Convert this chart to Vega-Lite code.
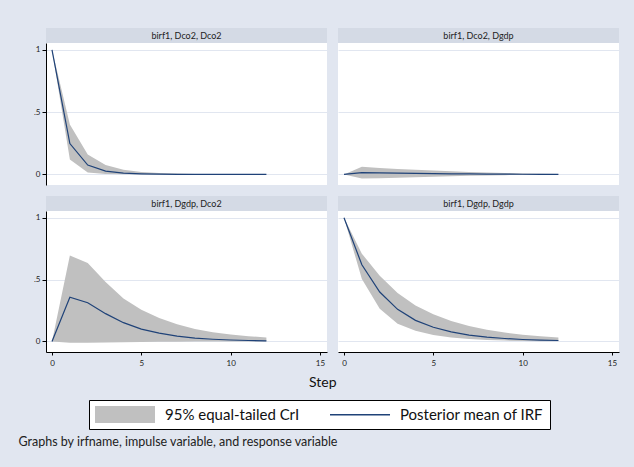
{
  "$schema": "https://vega.github.io/schema/vega-lite/v6.json",
  "background": "#e1e6f0",
  "padding": {"left": 18, "top": 28, "right": 16, "bottom": 20},
  "datasets": {
    "irf": [
      {"panel": "birf1, Dco2, Dco2", "step": 0, "mean": 1, "lo": 1, "hi": 1},
      {"panel": "birf1, Dco2, Dco2", "step": 1, "mean": 0.248, "lo": 0.12, "hi": 0.4},
      {"panel": "birf1, Dco2, Dco2", "step": 2, "mean": 0.075, "lo": 0.016, "hi": 0.16},
      {"panel": "birf1, Dco2, Dco2", "step": 3, "mean": 0.027, "lo": 0.004, "hi": 0.075},
      {"panel": "birf1, Dco2, Dco2", "step": 4, "mean": 0.011, "lo": 0.001, "hi": 0.038},
      {"panel": "birf1, Dco2, Dco2", "step": 5, "mean": 0.005, "lo": 0, "hi": 0.02},
      {"panel": "birf1, Dco2, Dco2", "step": 6, "mean": 0.002, "lo": 0, "hi": 0.012},
      {"panel": "birf1, Dco2, Dco2", "step": 7, "mean": 0.001, "lo": 0, "hi": 0.007},
      {"panel": "birf1, Dco2, Dco2", "step": 8, "mean": 0.0005, "lo": 0, "hi": 0.004},
      {"panel": "birf1, Dco2, Dco2", "step": 9, "mean": 0.0002, "lo": 0, "hi": 0.0025},
      {"panel": "birf1, Dco2, Dco2", "step": 10, "mean": 0.0001, "lo": 0, "hi": 0.0015},
      {"panel": "birf1, Dco2, Dco2", "step": 11, "mean": 0, "lo": 0, "hi": 0.001},
      {"panel": "birf1, Dco2, Dco2", "step": 12, "mean": 0, "lo": 0, "hi": 0.0006},
      {"panel": "birf1, Dco2, Dgdp", "step": 0, "mean": 0, "lo": 0, "hi": 0},
      {"panel": "birf1, Dco2, Dgdp", "step": 1, "mean": 0.014, "lo": -0.032, "hi": 0.062},
      {"panel": "birf1, Dco2, Dgdp", "step": 2, "mean": 0.012, "lo": -0.03, "hi": 0.052},
      {"panel": "birf1, Dco2, Dgdp", "step": 3, "mean": 0.01, "lo": -0.026, "hi": 0.044},
      {"panel": "birf1, Dco2, Dgdp", "step": 4, "mean": 0.008, "lo": -0.022, "hi": 0.037},
      {"panel": "birf1, Dco2, Dgdp", "step": 5, "mean": 0.007, "lo": -0.018, "hi": 0.031},
      {"panel": "birf1, Dco2, Dgdp", "step": 6, "mean": 0.005, "lo": -0.014, "hi": 0.025},
      {"panel": "birf1, Dco2, Dgdp", "step": 7, "mean": 0.004, "lo": -0.011, "hi": 0.02},
      {"panel": "birf1, Dco2, Dgdp", "step": 8, "mean": 0.003, "lo": -0.008, "hi": 0.015},
      {"panel": "birf1, Dco2, Dgdp", "step": 9, "mean": 0.002, "lo": -0.006, "hi": 0.011},
      {"panel": "birf1, Dco2, Dgdp", "step": 10, "mean": 0.0015, "lo": -0.004, "hi": 0.008},
      {"panel": "birf1, Dco2, Dgdp", "step": 11, "mean": 0.001, "lo": -0.003, "hi": 0.005},
      {"panel": "birf1, Dco2, Dgdp", "step": 12, "mean": 0.0008, "lo": -0.002, "hi": 0.003},
      {"panel": "birf1, Dgdp, Dco2", "step": 0, "mean": 0, "lo": 0, "hi": 0},
      {"panel": "birf1, Dgdp, Dco2", "step": 1, "mean": 0.358, "lo": -0.01, "hi": 0.695},
      {"panel": "birf1, Dgdp, Dco2", "step": 2, "mean": 0.313, "lo": -0.01, "hi": 0.634},
      {"panel": "birf1, Dgdp, Dco2", "step": 3, "mean": 0.225, "lo": -0.008, "hi": 0.48},
      {"panel": "birf1, Dgdp, Dco2", "step": 4, "mean": 0.152, "lo": -0.006, "hi": 0.348},
      {"panel": "birf1, Dgdp, Dco2", "step": 5, "mean": 0.1, "lo": -0.004, "hi": 0.257},
      {"panel": "birf1, Dgdp, Dco2", "step": 6, "mean": 0.067, "lo": -0.003, "hi": 0.19},
      {"panel": "birf1, Dgdp, Dco2", "step": 7, "mean": 0.043, "lo": -0.002, "hi": 0.14},
      {"panel": "birf1, Dgdp, Dco2", "step": 8, "mean": 0.027, "lo": -0.001, "hi": 0.1},
      {"panel": "birf1, Dgdp, Dco2", "step": 9, "mean": 0.018, "lo": 0, "hi": 0.075},
      {"panel": "birf1, Dgdp, Dco2", "step": 10, "mean": 0.012, "lo": 0, "hi": 0.056},
      {"panel": "birf1, Dgdp, Dco2", "step": 11, "mean": 0.008, "lo": 0, "hi": 0.043},
      {"panel": "birf1, Dgdp, Dco2", "step": 12, "mean": 0.005, "lo": 0, "hi": 0.033},
      {"panel": "birf1, Dgdp, Dgdp", "step": 0, "mean": 1, "lo": 1, "hi": 1},
      {"panel": "birf1, Dgdp, Dgdp", "step": 1, "mean": 0.62, "lo": 0.505, "hi": 0.71},
      {"panel": "birf1, Dgdp, Dgdp", "step": 2, "mean": 0.4, "lo": 0.265, "hi": 0.532},
      {"panel": "birf1, Dgdp, Dgdp", "step": 3, "mean": 0.26, "lo": 0.144, "hi": 0.393},
      {"panel": "birf1, Dgdp, Dgdp", "step": 4, "mean": 0.171, "lo": 0.086, "hi": 0.29},
      {"panel": "birf1, Dgdp, Dgdp", "step": 5, "mean": 0.115, "lo": 0.053, "hi": 0.22},
      {"panel": "birf1, Dgdp, Dgdp", "step": 6, "mean": 0.078, "lo": 0.032, "hi": 0.166},
      {"panel": "birf1, Dgdp, Dgdp", "step": 7, "mean": 0.052, "lo": 0.02, "hi": 0.125},
      {"panel": "birf1, Dgdp, Dgdp", "step": 8, "mean": 0.035, "lo": 0.012, "hi": 0.095},
      {"panel": "birf1, Dgdp, Dgdp", "step": 9, "mean": 0.024, "lo": 0.007, "hi": 0.072},
      {"panel": "birf1, Dgdp, Dgdp", "step": 10, "mean": 0.016, "lo": 0.004, "hi": 0.055},
      {"panel": "birf1, Dgdp, Dgdp", "step": 11, "mean": 0.011, "lo": 0.002, "hi": 0.042},
      {"panel": "birf1, Dgdp, Dgdp", "step": 12, "mean": 0.008, "lo": 0.001, "hi": 0.032}
    ]
  },
  "title": {
    "text": "Graphs by irfname, impulse variable, and response variable",
    "orient": "bottom", "anchor": "start", "fontSize": 12.5, "fontWeight": "normal",
    "color": "#222", "offset": 6, "dx": -15
  },
  "vconcat": [
    {
      "title": {"text": "Step", "orient": "bottom", "anchor": "middle", "fontSize": 14, "fontWeight": "normal", "color": "#111", "offset": 9, "dx": -3.5},
      "spacing": 11,
      "vconcat": [
        {
          "spacing": 11,
          "hconcat": [
            {
              "spacing": 0,
              "vconcat": [
                {
                  "width": 281, "height": 15,
                  "data": {"name": "irf"},
                  "transform": [{"filter": "datum.panel == 'birf1, Dco2, Dco2' && datum.step == 0"}],
                  "view": {"fill": "#d4dae5", "stroke": null},
                  "mark": {"type": "text", "fontSize": 9, "color": "#222", "baseline": "middle"},
                  "encoding": {"text": {"field": "panel"}}
                },
                {
                  "width": 281, "height": 142,
                  "data": {"name": "irf"},
                  "transform": [{"filter": "datum.panel == 'birf1, Dco2, Dco2'"}],
                  "view": {"fill": "white", "stroke": null},
                  "encoding": {
                    "x": {"field": "step", "type": "quantitative", "scale": {"domain": [-0.336, 15.392], "nice": false, "zero": false}, "axis": null}
                  },
                  "layer": [
                    {
                      "mark": {"type": "area", "color": "#c0c0c0", "opacity": 1},
                      "encoding": {
                        "y": {"field": "lo", "type": "quantitative", "scale": {"domain": [-0.085, 1.055], "nice": false, "zero": false},
                          "axis": {"title": null, "values": [0, 0.5, 1], "labelExpr": "datum.value == 0.5 ? '.5' : datum.value == 1 ? '1' : '0'", "grid": true, "gridColor": "#e1e6f0", "domainColor": "#000", "tickColor": "#000", "tickSize": 4, "labelPadding": 2, "labelFontSize": 8, "labelColor": "#222"}},
                        "y2": {"field": "hi"}
                      }
                    },
                    {
                      "mark": {"type": "line", "color": "#1f4278", "strokeWidth": 1.2},
                      "encoding": {
                        "y": {"field": "mean", "type": "quantitative", "scale": {"domain": [-0.085, 1.055], "nice": false, "zero": false},
                          "axis": {"title": null, "values": [0, 0.5, 1], "labelExpr": "datum.value == 0.5 ? '.5' : datum.value == 1 ? '1' : '0'", "grid": true, "gridColor": "#e1e6f0", "domainColor": "#000", "tickColor": "#000", "tickSize": 4, "labelPadding": 2, "labelFontSize": 8, "labelColor": "#222"}}
                      }
                    }
                  ]
                }
              ]
            },
            {
              "spacing": 0,
              "vconcat": [
                {
                  "width": 281, "height": 15,
                  "data": {"name": "irf"},
                  "transform": [{"filter": "datum.panel == 'birf1, Dco2, Dgdp' && datum.step == 0"}],
                  "view": {"fill": "#d4dae5", "stroke": null},
                  "mark": {"type": "text", "fontSize": 9, "color": "#222", "baseline": "middle"},
                  "encoding": {"text": {"field": "panel"}}
                },
                {
                  "width": 281, "height": 142,
                  "data": {"name": "irf"},
                  "transform": [{"filter": "datum.panel == 'birf1, Dco2, Dgdp'"}],
                  "view": {"fill": "white", "stroke": null},
                  "encoding": {
                    "x": {"field": "step", "type": "quantitative", "scale": {"domain": [-0.336, 15.392], "nice": false, "zero": false}, "axis": null}
                  },
                  "layer": [
                    {
                      "mark": {"type": "area", "color": "#c0c0c0", "opacity": 1},
                      "encoding": {
                        "y": {"field": "lo", "type": "quantitative", "scale": {"domain": [-0.085, 1.055], "nice": false, "zero": false},
                          "axis": {"title": null, "values": [0, 0.5, 1], "grid": true, "gridColor": "#e1e6f0", "labels": false, "ticks": false, "domain": false}},
                        "y2": {"field": "hi"}
                      }
                    },
                    {
                      "mark": {"type": "line", "color": "#1f4278", "strokeWidth": 1.2},
                      "encoding": {
                        "y": {"field": "mean", "type": "quantitative", "scale": {"domain": [-0.085, 1.055], "nice": false, "zero": false},
                          "axis": {"title": null, "values": [0, 0.5, 1], "grid": true, "gridColor": "#e1e6f0", "labels": false, "ticks": false, "domain": false}}
                      }
                    }
                  ]
                }
              ]
            }
          ]
        },
        {
          "spacing": 11,
          "hconcat": [
            {
              "spacing": 0,
              "vconcat": [
                {
                  "width": 281, "height": 15,
                  "data": {"name": "irf"},
                  "transform": [{"filter": "datum.panel == 'birf1, Dgdp, Dco2' && datum.step == 0"}],
                  "view": {"fill": "#d4dae5", "stroke": null},
                  "mark": {"type": "text", "fontSize": 9, "color": "#222", "baseline": "middle"},
                  "encoding": {"text": {"field": "panel"}}
                },
                {
                  "width": 281, "height": 141,
                  "data": {"name": "irf"},
                  "transform": [{"filter": "datum.panel == 'birf1, Dgdp, Dco2'"}],
                  "view": {"fill": "white", "stroke": null},
                  "encoding": {
                    "x": {"field": "step", "type": "quantitative", "scale": {"domain": [-0.336, 15.392], "nice": false, "zero": false},
                      "axis": {"title": null, "values": [0, 5, 10, 15], "grid": false, "domainColor": "#000", "tickColor": "#000", "tickSize": 3, "labelPadding": 4, "labelFontSize": 8, "labelColor": "#222"}}
                  },
                  "layer": [
                    {
                      "mark": {"type": "area", "color": "#c0c0c0", "opacity": 1},
                      "encoding": {
                        "y": {"field": "lo", "type": "quantitative", "scale": {"domain": [-0.085, 1.055], "nice": false, "zero": false},
                          "axis": {"title": null, "values": [0, 0.5, 1], "labelExpr": "datum.value == 0.5 ? '.5' : datum.value == 1 ? '1' : '0'", "grid": true, "gridColor": "#e1e6f0", "domainColor": "#000", "tickColor": "#000", "tickSize": 4, "labelPadding": 2, "labelFontSize": 8, "labelColor": "#222"}},
                        "y2": {"field": "hi"},
                        "color": {
                          "datum": "95% equal-tailed CrI", "type": "nominal",
                          "scale": {"domain": ["95% equal-tailed CrI", "Posterior mean of IRF"], "range": ["#c0c0c0", "#1f4278"]},
                          "legend": {
                            "title": null, "orient": "none", "legendX": 43, "legendY": 372,
                            "direction": "horizontal", "padding": 6,
                            "strokeColor": "#000", "fillColor": "#fff",
                            "symbolSize": 289, "symbolStrokeWidth": 0, "symbolOpacity": 1,
                            "symbolType": {"expr": "datum.value == 'Posterior mean of IRF' ? 'M-1,-0.08H6.06V0.08H-1Z' : 'M-1,-1H6.06V1H-1Z'"},
                            "labelFontSize": 15, "labelOffset": 53, "labelColor": "#111",
                            "columnPadding": 30
                          }
                        }
                      }
                    },
                    {
                      "mark": {"type": "line", "color": "#1f4278", "strokeWidth": 1.2},
                      "encoding": {
                        "y": {"field": "mean", "type": "quantitative", "scale": {"domain": [-0.085, 1.055], "nice": false, "zero": false},
                          "axis": {"title": null, "values": [0, 0.5, 1], "labelExpr": "datum.value == 0.5 ? '.5' : datum.value == 1 ? '1' : '0'", "grid": true, "gridColor": "#e1e6f0", "domainColor": "#000", "tickColor": "#000", "tickSize": 4, "labelPadding": 2, "labelFontSize": 8, "labelColor": "#222"}}
                      }
                    }
                  ]
                }
              ]
            },
            {
              "spacing": 0,
              "vconcat": [
                {
                  "width": 281, "height": 15,
                  "data": {"name": "irf"},
                  "transform": [{"filter": "datum.panel == 'birf1, Dgdp, Dgdp' && datum.step == 0"}],
                  "view": {"fill": "#d4dae5", "stroke": null},
                  "mark": {"type": "text", "fontSize": 9, "color": "#222", "baseline": "middle"},
                  "encoding": {"text": {"field": "panel"}}
                },
                {
                  "width": 281, "height": 141,
                  "data": {"name": "irf"},
                  "transform": [{"filter": "datum.panel == 'birf1, Dgdp, Dgdp'"}],
                  "view": {"fill": "white", "stroke": null},
                  "encoding": {
                    "x": {"field": "step", "type": "quantitative", "scale": {"domain": [-0.336, 15.392], "nice": false, "zero": false},
                      "axis": {"title": null, "values": [0, 5, 10, 15], "grid": false, "domainColor": "#000", "tickColor": "#000", "tickSize": 3, "labelPadding": 4, "labelFontSize": 8, "labelColor": "#222"}}
                  },
                  "layer": [
                    {
                      "mark": {"type": "area", "color": "#c0c0c0", "opacity": 1},
                      "encoding": {
                        "y": {"field": "lo", "type": "quantitative", "scale": {"domain": [-0.085, 1.055], "nice": false, "zero": false},
                          "axis": {"title": null, "values": [0, 0.5, 1], "grid": true, "gridColor": "#e1e6f0", "labels": false, "ticks": false, "domain": false}},
                        "y2": {"field": "hi"}
                      }
                    },
                    {
                      "mark": {"type": "line", "color": "#1f4278", "strokeWidth": 1.2},
                      "encoding": {
                        "y": {"field": "mean", "type": "quantitative", "scale": {"domain": [-0.085, 1.055], "nice": false, "zero": false},
                          "axis": {"title": null, "values": [0, 0.5, 1], "grid": true, "gridColor": "#e1e6f0", "labels": false, "ticks": false, "domain": false}}
                      }
                    }
                  ]
                }
              ]
            }
          ]
        }
      ]
    }
  ],
  "config": {
    "font": "Lato",
    "view": {"stroke": null}
  }
}
